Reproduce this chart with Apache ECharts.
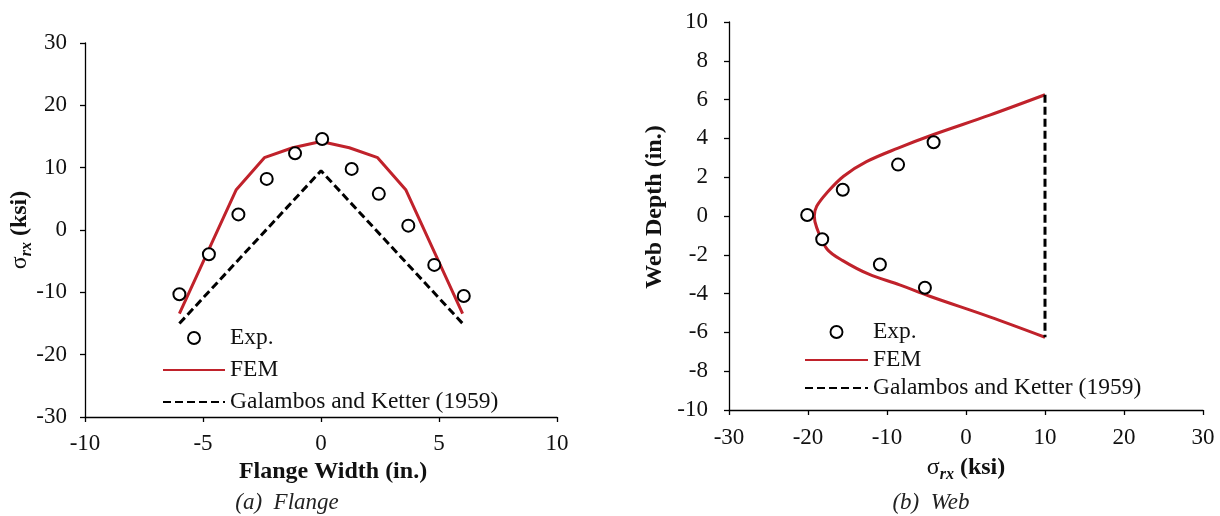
<!DOCTYPE html>
<html>
<head>
<meta charset="utf-8">
<script src="https://cdn.jsdelivr.net/npm/echarts@6/dist/echarts.min.js"></script>
<style>
html,body{margin:0;padding:0;background:#fff;}
#c{width:1220px;height:516px;}
</style>
</head>
<body>
<div id="c"></div>
<script>
// ---- data (a) Flange ----
const flangeExpX = [-6.0, -4.75, -3.5, -2.3, -1.1, 0.05, 1.3, 2.45, 3.7, 4.8, 6.05];
const flangeExpY = [-10.3, -3.9, 2.5, 8.2, 12.3, 14.6, 9.8, 5.8, 0.7, -5.6, -10.6];
const flangeFemX = [-6, -4.8, -3.6, -2.4, -1.2, 0, 1.2, 2.4, 3.6, 4.8, 6];
const flangeFemY = [-13.4, -3.5, 6.4, 11.6, 13.2, 14.2, 13.2, 11.6, 6.4, -3.5, -13.4];
const flangeGalX = [-6, 0, 6];
const flangeGalY = [-15, 9.5, -15];
// ---- data (b) Web ----
const webExpX = [-20.1, -18.2, -15.6, -8.6, -4.1, -10.9, -5.2];
const webExpY = [0.05, -1.2, 1.35, 2.65, 3.8, -2.5, -3.7];
const webFemX = [10, 3, -4.1, -8.6, -12.6, -15.5, -17.6, -18.9, -19.2, -18.9, -17.6, -15.6, -12.3, -8.4, -4.5, 3, 10];
const webFemY = [6.25, 5.2, 4.2, 3.5, 2.8, 2.05, 1.2, 0.5, 0, -0.6, -1.7, -2.3, -3.0, -3.55, -4.15, -5.2, -6.25];
const webGalX = [10, 10];
const webGalY = [6.25, -6.25];
const legendNames = ['Exp.', 'FEM', 'Galambos and Ketter (1959)'];

const zip = (a, b) => a.map((v, i) => [v, b[i]]);
const FONT = '"Liberation Serif", "Times New Roman", serif';
const RED = '#C0222B';

function axis(extra, margin) {
  return Object.assign({
    type: 'value',
    splitLine: { show: false },
    axisLine: { show: true, onZero: false, lineStyle: { color: '#000', width: 1.3 } },
    axisTick: { show: true, inside: false, length: 5, lineStyle: { color: '#000', width: 1.3 } },
    axisLabel: { color: '#111', fontFamily: FONT, fontSize: 23, margin: margin }
  }, extra);
}

const sigmaRich = {
  s: { fontFamily: FONT, fontSize: 24, fontWeight: 'normal', fill: '#111', lineHeight: 30 },
  r: { fontFamily: FONT, fontSize: 16, fontWeight: 'bold', fontStyle: 'italic', fill: '#111', lineHeight: 17, verticalAlign: 'bottom' },
  k: { fontFamily: FONT, fontSize: 24, fontWeight: 'bold', fill: '#111', lineHeight: 30 }
};

function scatter(name, xi, yi, d) {
  return { name, type: 'scatter', xAxisIndex: xi, yAxisIndex: yi, data: d,
    symbol: 'emptyCircle', symbolSize: 12,
    itemStyle: { color: '#000', borderColor: '#000', borderWidth: 2.2, opacity: 1 }, z: 5 };
}
function line(name, xi, yi, d, color, dash, smooth) {
  return { name, type: 'line', xAxisIndex: xi, yAxisIndex: yi, data: d,
    symbol: 'none', smooth: smooth || false,
    itemStyle: { color, opacity: 0 },
    lineStyle: { color, width: 3, opacity: 1, type: dash ? [8, 4] : 'solid' } };
}

const legendData = legendNames.map((n, i) => i === 0
  ? { name: n, icon: 'circle', itemStyle: { color: '#fff', borderColor: '#000', borderWidth: 1.9, opacity: 1 } }
  : { name: n });

const legendCommon = {
  orient: 'vertical', itemWidth: 62, itemHeight: 12, selectedMode: false,
  textStyle: { fontFamily: FONT, fontSize: 23.5, color: '#111' }, itemGap: 7, padding: 0,
  data: legendData
};

const option = {
  animation: false,
  backgroundColor: '#fff',
  grid: [
    { left: 85, top: 43, width: 472, height: 374 },
    { left: 729, top: 22, width: 474, height: 388 }
  ],
  xAxis: [
    axis({ gridIndex: 0, min: -10, max: 10, interval: 5 }, 15),
    axis({ gridIndex: 1, min: -30, max: 30, interval: 10 }, 16)
  ],
  yAxis: [
    axis({ gridIndex: 0, min: -30, max: 30, interval: 10 }, 18),
    axis({ gridIndex: 1, min: -10, max: 10, interval: 2 }, 21)
  ],
  legend: [
    Object.assign({}, legendCommon, { left: 162, top: 326, itemGap: 8 }),
    Object.assign({}, legendCommon, { left: 804, top: 320, itemWidth: 63, itemGap: 4 })
  ],
  series: [
    line('FEM', 0, 0, zip(flangeFemX, flangeFemY), RED, false),
    line('Galambos and Ketter (1959)', 0, 0, zip(flangeGalX, flangeGalY), '#000', true),
    scatter('Exp.', 0, 0, zip(flangeExpX, flangeExpY)),
    line('FEM', 1, 1, zip(webFemX, webFemY), RED, false, 0.35),
    line('Galambos and Ketter (1959)', 1, 1, zip(webGalX, webGalY), '#000', true),
    scatter('Exp.', 1, 1, zip(webExpX, webExpY))
  ],
  graphic: [
    { type: 'text', x: 333, y: 472, style: { text: 'Flange Width (in.)', font: 'bold 24px ' + FONT, fill: '#111', align: 'center', verticalAlign: 'middle' } },
    { type: 'text', x: 966, y: 468, style: { text: '{s|σ}{r|rx}{k| (ksi)}', rich: sigmaRich, align: 'center', verticalAlign: 'middle' } },
    { type: 'text', x: 20, y: 230, rotation: Math.PI / 2, style: { text: '{s|σ}{r|rx}{k| (ksi)}', rich: sigmaRich, align: 'center', verticalAlign: 'middle' } },
    { type: 'text', x: 655, y: 207, rotation: Math.PI / 2, style: { text: 'Web Depth (in.)', font: 'bold 24px ' + FONT, fill: '#111', align: 'center', verticalAlign: 'middle' } },
    { type: 'text', x: 287, y: 503, style: { text: '(a)  Flange', font: 'italic 23px ' + FONT, fill: '#222', align: 'center', verticalAlign: 'middle' } },
    { type: 'text', x: 931, y: 503, style: { text: '(b)  Web', font: 'italic 23px ' + FONT, fill: '#222', align: 'center', verticalAlign: 'middle' } }
  ]
};

const chart = echarts.init(document.getElementById('c'), null, { renderer: 'canvas' });
chart.setOption(option);
</script>
</body>
</html>
